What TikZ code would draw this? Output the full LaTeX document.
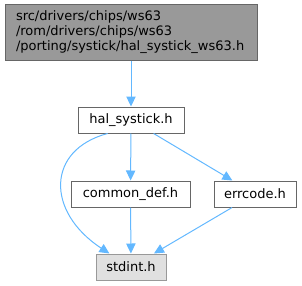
\documentclass[tikz,border=0pt]{standalone}
\usepackage{fontspec}
\setmainfont{DejaVu Sans}
\usepackage{xcolor}
\usepackage{tikz}
\usetikzlibrary{arrows.meta, positioning}

\definecolor{edgeblue}{HTML}{63B8FF}
\definecolor{boxline}{HTML}{666666}
\definecolor{rootfill}{HTML}{999999}
\definecolor{leaffill}{HTML}{E0E0E0}
\definecolor{leafline}{HTML}{999999}

\begin{document}
\begin{tikzpicture}[x=0.75pt, y=-0.75pt,
    every node/.style={font=\fontsize{9.75}{11.25}\selectfont, inner sep=0pt},
    filebox/.style={draw=boxline, fill=white, line width=0.75pt, minimum height=19.5pt},
    rootbox/.style={filebox, fill=rootfill, align=left, minimum width=189pt, minimum height=41.25pt, text width=172.5pt},
    leafbox/.style={filebox, draw=leafline, fill=leaffill},
    edge/.style={draw=edgeblue, line width=0.75pt, -{Triangle[length=7.5pt, width=7pt]}}]

    \useasboundingbox (0,0) rectangle (302,285);

    % File
    \node[rootbox] (root) at (131,32.5) {src/drivers/chips/ws63\\/rom/drivers/chips/ws63\\/porting/systick/hal\_systick\_ws63.h};
    \node[filebox, minimum width=79.5pt] (hal) at (131,120) {hal\_systick.h};
    \node[filebox, minimum width=89.25pt] (common) at (130.5,194) {common\_def.h};
    \node[filebox, minimum width=61.5pt] (errcode) at (255,194) {errcode.h};
    \node[leafbox, minimum width=52.5pt] (stdint) at (131,267) {stdint.h};

    % Include
    \draw[edge] (root) -- (hal);
    \draw[edge] (hal) -- (common);
    \draw[edge] (hal) -- (errcode);
    \draw[edge] (hal.210) .. controls (46,150) and (46,212) .. (stdint.148);
    \draw[edge] (common) -- (stdint);
    \draw[edge] (errcode) -- (stdint);
\end{tikzpicture}
\end{document}
